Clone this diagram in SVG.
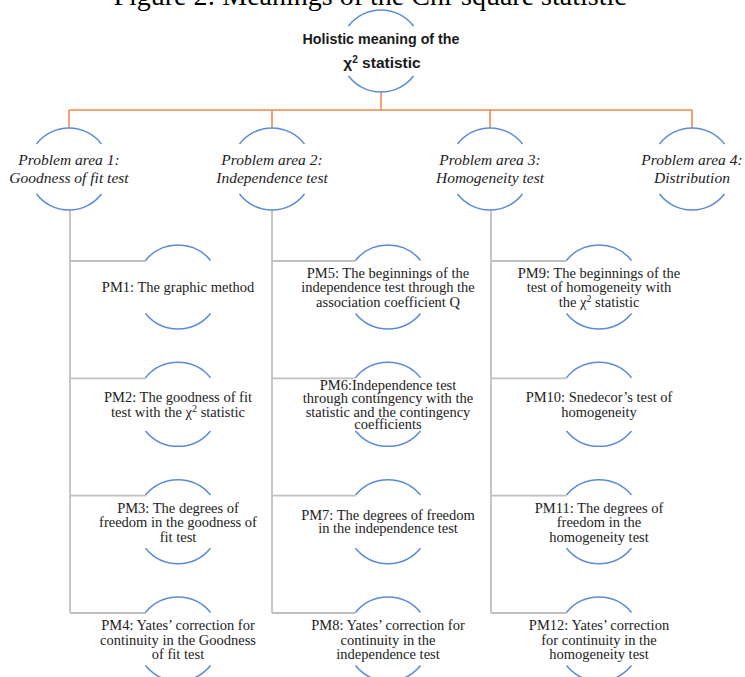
<svg xmlns="http://www.w3.org/2000/svg" xmlns:xlink="http://www.w3.org/1999/xlink" width="745" height="677" viewBox="0 0 745 677">
<style>
.title{font-family:"Liberation Serif","Times New Roman",serif;font-size:28px;fill:#000;text-anchor:middle}
.top{font-family:"Liberation Sans Narrow","Liberation Sans",Arial,sans-serif;font-weight:bold;font-size:15.5px;fill:#1a1a1a;text-anchor:middle}
.pa{font-family:"Liberation Serif","Times New Roman",serif;font-style:italic;font-size:15.5px;fill:#222;text-anchor:middle}
.pm{font-family:"Liberation Serif","Times New Roman",serif;font-size:14.5px;fill:#222;text-anchor:middle}
.arc{fill:none;stroke:#5b8bd8;stroke-width:1.5}
.or{stroke:#ef8a4c;stroke-width:1.6;fill:none}
.gr{stroke:#c0c0c0;stroke-width:1.8;fill:none}
</style>
<defs>
<path id="arcA" class="arc" d="M-32.5,-25 A41,41 0 0 1 32.5,-25 M-32.5,25 A41,41 0 0 0 32.5,25"/>
<path id="arcB" class="arc" d="M-32.5,-26.6 A42,42 0 0 1 32.5,-26.6 M-32.5,26.6 A42,42 0 0 0 32.5,26.6"/>
</defs>
<rect width="745" height="677" fill="#fff"/>
<text class="title" x="370" y="5">Figure 2:  Meanings of the Chi-square statistic</text>

<g id="connectors">
<path class="or" d="M381,92V110M69,110H692M69,110V128M272,110V128M490,110V128M692,110V128"/>
<path class="gr" d="M70,210V613M70,261H146M70,378.3H146M70,495.7H146M70,613H146"/>
<path class="gr" d="M272,210V613M272,261H355.5M272,378.3H355.5M272,495.7H355.5M272,613H355.5"/>
<path class="gr" d="M491,210V613M491,261H566.5M491,378.3H566.5M491,495.7H566.5M491,613H566.5"/>
</g>

<g id="root">
<use xlink:href="#arcA" x="381" y="51"/>
<text class="top" x="381" y="44" textLength="157" lengthAdjust="spacingAndGlyphs">Holistic meaning of the</text>
<text class="top" x="382" y="68">χ<tspan dy="-5" font-size="10">2</tspan><tspan dy="5"> statistic</tspan></text>
</g>

<g id="pa1">
<use xlink:href="#arcA" x="69" y="169"/>
<text class="pa" x="69" y="164.5">Problem area 1:</text>
<text class="pa" x="69" y="182.5">Goodness of fit test</text>
</g>
<g id="pa2">
<use xlink:href="#arcA" x="272" y="169"/>
<text class="pa" x="272" y="164.5">Problem area 2:</text>
<text class="pa" x="272" y="182.5">Independence test</text>
</g>
<g id="pa3">
<use xlink:href="#arcA" x="490" y="169"/>
<text class="pa" x="490" y="164.5">Problem area 3:</text>
<text class="pa" x="490" y="182.5">Homogeneity test</text>
</g>
<g id="pa4">
<use xlink:href="#arcA" x="692" y="169"/>
<text class="pa" x="692" y="164.5">Problem area 4:</text>
<text class="pa" x="692" y="182.5">Distribution</text>
</g>

<g id="pm1">
<use xlink:href="#arcB" x="178" y="287"/>
<text class="pm" x="178" y="292">PM1: The graphic method</text>
</g>
<g id="pm2">
<use xlink:href="#arcB" x="178" y="404.3"/>
<text class="pm" x="178" y="402">PM2: The goodness of fit</text>
<text class="pm" x="178" y="416.5">test with the χ<tspan dy="-5" font-size="10">2</tspan><tspan dy="5"> statistic</tspan></text>
</g>
<g id="pm3">
<use xlink:href="#arcB" x="178" y="521.7"/>
<text class="pm" x="178" y="512.5">PM3: The degrees of</text>
<text class="pm" x="178" y="527">freedom in the goodness of</text>
<text class="pm" x="178" y="541.5">fit test</text>
</g>
<g id="pm4">
<use xlink:href="#arcB" x="178" y="639"/>
<text class="pm" x="178" y="630">PM4: Yates’ correction for</text>
<text class="pm" x="178" y="644.5">continuity in the Goodness</text>
<text class="pm" x="178" y="659">of fit test</text>
</g>

<g id="pm5">
<use xlink:href="#arcB" x="388" y="287"/>
<text class="pm" x="388" y="277.5">PM5: The beginnings of the</text>
<text class="pm" x="388" y="292">independence test through the</text>
<text class="pm" x="388" y="306.5">association coefficient Q</text>
</g>
<g id="pm6">
<use xlink:href="#arcB" x="388" y="404.3"/>
<text class="pm" x="388" y="389.5">PM6:Independence test</text>
<text class="pm" x="388" y="403">through contingency with the</text>
<text class="pm" x="388" y="416.5">statistic and the contingency</text>
<text class="pm" x="388" y="429">coefficients</text>
</g>
<g id="pm7">
<use xlink:href="#arcB" x="388" y="521.7"/>
<text class="pm" x="388" y="519.5">PM7: The degrees of freedom</text>
<text class="pm" x="388" y="533">in the independence test</text>
</g>
<g id="pm8">
<use xlink:href="#arcB" x="388" y="639"/>
<text class="pm" x="388" y="630">PM8: Yates’ correction for</text>
<text class="pm" x="388" y="644.5">continuity in the</text>
<text class="pm" x="388" y="659">independence test</text>
</g>

<g id="pm9">
<use xlink:href="#arcB" x="599" y="287"/>
<text class="pm" x="599" y="277.5">PM9: The beginnings of the</text>
<text class="pm" x="599" y="292">test of homogeneity with</text>
<text class="pm" x="599" y="306.5">the χ<tspan dy="-5" font-size="10">2</tspan><tspan dy="5"> statistic</tspan></text>
</g>
<g id="pm10">
<use xlink:href="#arcB" x="599" y="404.3"/>
<text class="pm" x="599" y="402">PM10: Snedecor’s test of</text>
<text class="pm" x="599" y="416.5">homogeneity</text>
</g>
<g id="pm11">
<use xlink:href="#arcB" x="599" y="521.7"/>
<text class="pm" x="599" y="512.5">PM11: The degrees of</text>
<text class="pm" x="599" y="527">freedom in the</text>
<text class="pm" x="599" y="541.5">homogeneity test</text>
</g>
<g id="pm12">
<use xlink:href="#arcB" x="599" y="639"/>
<text class="pm" x="599" y="630">PM12: Yates’ correction</text>
<text class="pm" x="599" y="644.5">for continuity in the</text>
<text class="pm" x="599" y="659">homogeneity test</text>
</g>
</svg>
